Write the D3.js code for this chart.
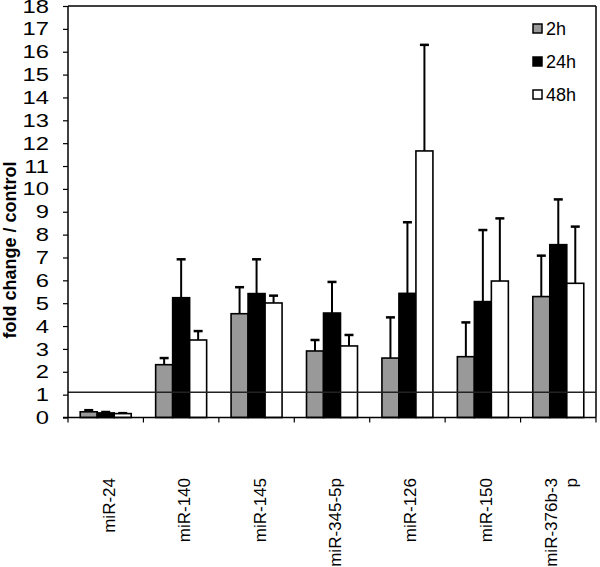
<!DOCTYPE html>
<html><head><meta charset="utf-8">
<script src="https://cdn.jsdelivr.net/npm/d3@7"></script>
<style>body{margin:0;background:#fff}svg{display:block}text{font-family:"Liberation Sans",Arial,sans-serif}</style>
</head><body><svg id="c" width="600" height="567"></svg>
<script>
const categories = ["miR-24","miR-140","miR-145","miR-345-5p","miR-126","miR-150","miR-376b-3p"];
const series = ["2h","24h","48h"];
const values2h  = [0.25, 2.31, 4.54, 2.91, 2.60, 2.66, 5.29];
const values24h = [0.20, 5.24, 5.42, 4.57, 5.43, 5.07, 7.56];
const values48h = [0.17, 3.39, 5.01, 3.13, 11.66, 5.97, 5.87];
const err2h  = [0.07, 0.29, 1.16, 0.48, 1.78, 1.50, 1.79];
const err24h = [0.04, 1.68, 1.50, 1.36, 3.11, 3.13, 1.98];
const err48h = [0.02, 0.39, 0.32, 0.48, 4.64, 2.74, 2.48];
const yTicks = d3.range(0, 19, 1);
const refLine = 1.1;
const colors = ["#999999","#000000","#ffffff"];

const svg = d3.select("#c");
const L = 68, R = 596, T = 6, B = 417.5;
const x0 = d3.scaleBand().domain(categories).range([L, R]).padding(0);
const x1 = d3.scaleBand().domain(series).range([x0.bandwidth()*0.162, x0.bandwidth()*0.838]).padding(0);
const y = d3.scaleLinear().domain([0, 18]).range([B, T]);

const vals = [values2h, values24h, values48h];
const errs = [err2h, err24h, err48h];
const data = [];
categories.forEach((c, i) => series.forEach((s, j) => data.push({c, s, j, v: vals[j][i], e: errs[j][i]})));

// frame top/right
svg.append("line").attr("x1", L).attr("x2", R).attr("y1", T).attr("y2", T).attr("stroke", "#000").attr("stroke-width", 1.5);
svg.append("line").attr("x1", R).attr("x2", R).attr("y1", T).attr("y2", B).attr("stroke", "#000").attr("stroke-width", 1.5);

// error bars
const eg = svg.append("g");
data.forEach(d => {
  const cx = x0(d.c) + x1(d.s) + x1.bandwidth()/2;
  eg.append("line").attr("x1", cx).attr("x2", cx).attr("y1", y(d.v)).attr("y2", y(d.v + d.e)).attr("stroke", "#000").attr("stroke-width", 2);
  eg.append("line").attr("x1", cx-4.5).attr("x2", cx+4.5).attr("y1", y(d.v + d.e)).attr("y2", y(d.v + d.e)).attr("stroke", "#000").attr("stroke-width", 2.5);
});

// bars
svg.append("g").selectAll("rect").data(data).join("rect")
  .attr("x", d => x0(d.c) + x1(d.s))
  .attr("y", d => y(d.v))
  .attr("width", x1.bandwidth())
  .attr("height", d => B - y(d.v))
  .attr("fill", d => colors[d.j])
  .attr("stroke", "#000").attr("stroke-width", 1.6);

// reference line
svg.append("line").attr("x1", L).attr("x2", R).attr("y1", y(refLine)).attr("y2", y(refLine)).attr("stroke", "#222").attr("stroke-width", 1.5);

// y axis
const ya = svg.append("g").attr("transform", `translate(${L},0)`)
  .call(d3.axisLeft(y).tickValues(yTicks).tickSize(5).tickPadding(9).tickFormat(d3.format("d")));
ya.select(".domain").attr("stroke-width", 1.5).attr("d", `M-0,${B}V${T}`);
ya.selectAll(".tick line").attr("stroke-width", 1.2);
ya.selectAll(".tick text").attr("font-size", 19).attr("fill", "#000")
  .attr("x", -15.2).attr("transform", "scale(1.25,1)")
  .style("font-family", "'Liberation Sans', Arial, sans-serif");

// x axis
svg.append("line").attr("x1", L-5).attr("x2", R).attr("y1", B).attr("y2", B).attr("stroke", "#000").attr("stroke-width", 1.5);
const bounds = categories.map(c => x0(c)).concat([R]);
svg.append("g").selectAll("line").data(bounds).join("line")
  .attr("x1", d => d).attr("x2", d => d).attr("y1", B).attr("y2", B + 5).attr("stroke", "#000").attr("stroke-width", 1.2);

// x labels
const xl = svg.append("g");
categories.forEach(c => {
  const cx = x0(c) + x0.bandwidth()/2;
  const lines = c === "miR-376b-3p" ? ["miR-376b-3", "p"] : [c];
  lines.forEach((t, k) => {
    const off = (k - (lines.length - 1)/2) * 20;
    xl.append("text").attr("transform", `translate(${cx + off + 3},478) rotate(-90)`)
      .attr("text-anchor", "end").attr("dy", "0.35em").attr("font-size", 17).text(t);
  });
});

// y title
svg.append("text").attr("transform", "translate(16,250) rotate(-90)").attr("text-anchor", "middle")
  .attr("font-size", 18).attr("font-weight", "bold").text("fold change / control");

// legend
const lg = svg.append("g");
series.forEach((s, j) => {
  const yy = 35 + j * 33;
  lg.append("rect").attr("x", 533).attr("y", yy - 11).attr("width", 9).attr("height", 9)
    .attr("fill", colors[j]).attr("stroke", "#000").attr("stroke-width", 1.5);
  lg.append("text").attr("x", 546).attr("y", yy).attr("font-size", 18).text(s);
});
</script></body></html>
